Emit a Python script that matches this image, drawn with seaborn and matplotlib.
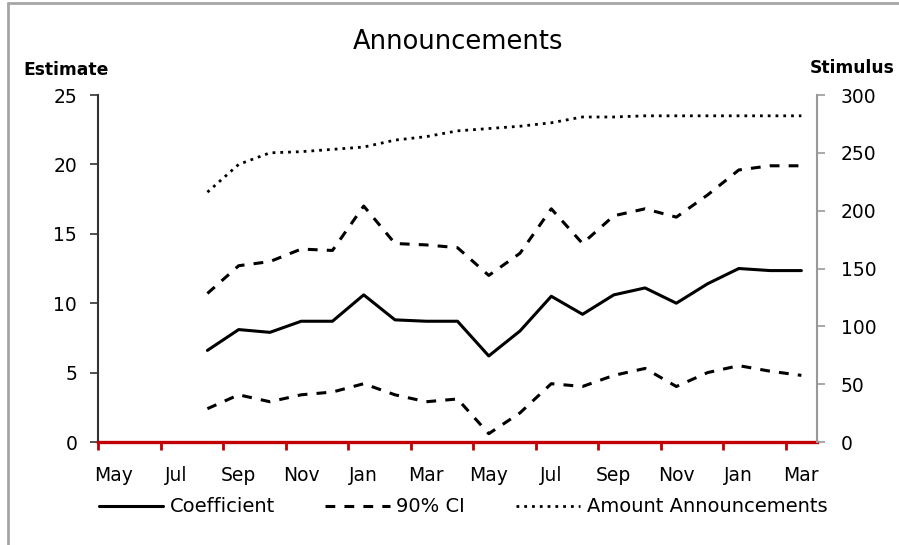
import pandas as pd
import matplotlib
matplotlib.use('Agg')
import matplotlib.pyplot as plt
from matplotlib.lines import Line2D
import seaborn as sns

# ----------------- Data ----------------
months = ['May', 'Jun', 'Jul', 'Aug', 'Sep', 'Oct', 'Nov', 'Dec', 'Jan', 'Feb', 'Mar', 'Apr',
          'May', 'Jun', 'Jul', 'Aug', 'Sep', 'Oct', 'Nov', 'Dec', 'Jan', 'Feb', 'Mar']
first_obs = 3  # series start in Aug

coefficient = [6.6, 8.1, 7.9, 8.7, 8.7, 10.6, 8.8, 8.7, 8.7, 6.2,
               8.0, 10.5, 9.2, 10.6, 11.1, 10.0, 11.4, 12.5, 12.35, 12.35]
ci_upper = [10.7, 12.7, 13.0, 13.9, 13.8, 17.0, 14.3, 14.2, 14.0, 12.0,
            13.6, 16.8, 14.3, 16.3, 16.8, 16.2, 17.8, 19.6, 19.9, 19.9]
ci_lower = [2.4, 3.4, 2.9, 3.4, 3.6, 4.2, 3.4, 2.9, 3.1, 0.6,
            2.1, 4.2, 4.0, 4.8, 5.3, 4.0, 5.0, 5.5, 5.1, 4.8]
amount = [216, 240, 250, 251, 253, 255, 261, 264, 269, 271,
          273, 276, 281, 281, 282, 282, 282, 282, 282, 282]

df = pd.DataFrame({
    'pos': range(first_obs, len(months)),
    'Coefficient': coefficient,
    'Upper': ci_upper,
    'Lower': ci_lower,
    'Amount': amount,
})

# ----------------- Plot ----------------
sns.set_style('white')
plt.rcParams['font.family'] = ['DejaVu Sans']
plt.rcParams['text.color'] = 'black'
plt.rcParams['xtick.labelcolor'] = 'black'
plt.rcParams['ytick.labelcolor'] = 'black'

fig = plt.figure(figsize=(8.99, 5.45), dpi=100)
ax = fig.add_axes([98 / 899, 103 / 545, 719 / 899, 347 / 545])
ax2 = ax.twinx()

lw = 2.2
dash = (3.2, 3)
dot = (1, 1.8)
sns.lineplot(data=df, x='pos', y='Coefficient', ax=ax, color='black', linewidth=lw)
sns.lineplot(data=df, x='pos', y='Upper', ax=ax, color='black', linewidth=lw)
ax.lines[-1].set_dashes(dash)
sns.lineplot(data=df, x='pos', y='Lower', ax=ax, color='black', linewidth=lw)
ax.lines[-1].set_dashes(dash)
sns.lineplot(data=df, x='pos', y='Amount', ax=ax2, color='black', linewidth=2.0)
ax2.lines[-1].set_dashes(dot)

# x axis: labels every other month, tick marks between pairs
ax.set_xlim(-0.5, len(months) - 0.5)
ax.set_xticks(range(0, len(months), 2))
ax.set_xticklabels(months[::2])
ax.set_xticks([i - 0.5 for i in range(0, len(months), 2)], minor=True)
ax.tick_params(axis='x', which='major', bottom=True, length=0, pad=17, labelsize=13.5)
ax.tick_params(axis='x', which='minor', bottom=True, length=6, width=2,
               color='#c00000', direction='out')
ax.set_xlabel('')

ax.set_ylim(0, 25)
ax.set_yticks([0, 5, 10, 15, 20, 25])
ax.tick_params(axis='y', left=True, length=6, width=1.2, color='#333333', pad=9, labelsize=13.5)
ax.set_ylabel('')

ax2.set_ylim(0, 300)
ax2.set_yticks([0, 50, 100, 150, 200, 250, 300])
ax2.tick_params(axis='y', right=True, length=6, width=1.2, color='#999999', pad=11, labelsize=13.5)
ax2.set_ylabel('')

for a in (ax, ax2):
    a.spines['top'].set_visible(False)
    a.grid(False)
ax.spines['right'].set_visible(False)
ax.spines['left'].set_color('#333333')
ax.spines['left'].set_linewidth(1.5)
ax.spines['bottom'].set_color('#c00000')
ax.spines['bottom'].set_linewidth(2.4)
ax.spines['bottom'].set_zorder(5)
ax2.spines['left'].set_visible(False)
ax2.spines['bottom'].set_visible(False)
ax2.spines['right'].set_color('#999999')
ax2.spines['right'].set_linewidth(1.5)

# titles
fig.text(458 / 899, 1 - 42 / 545, 'Announcements', ha='center', va='center',
         fontsize=18.5, fontweight='medium')
fig.text(66 / 899, 1 - 70 / 545, 'Estimate', ha='center', va='center', fontsize=12.3, fontweight='bold')
fig.text(852 / 899, 1 - 68 / 545, 'Stimulus', ha='center', va='center', fontsize=12.3, fontweight='bold')

# legend
handles = [
    Line2D([], [], color='black', linewidth=lw),
    Line2D([], [], color='black', linewidth=lw, dashes=dash),
    Line2D([], [], color='black', linewidth=2.0, dashes=dot),
]
fig.legend(handles, ['Coefficient', '90% CI', 'Amount Announcements'],
           loc='center', bbox_to_anchor=(463 / 899, 1 - 507 / 545), ncol=3,
           frameon=False, fontsize=14, handlelength=3.3, handletextpad=0.35,
           columnspacing=2.6)

# chart area border (top and left edges visible)
fig.add_artist(Line2D([8 / 899, 8 / 899], [0, 1 - 3 / 545], color='#a6a6a6', linewidth=2))
fig.add_artist(Line2D([8 / 899, 1], [1 - 3 / 545, 1 - 3 / 545], color='#a6a6a6', linewidth=2))

fig.savefig('out.png', dpi=100)
